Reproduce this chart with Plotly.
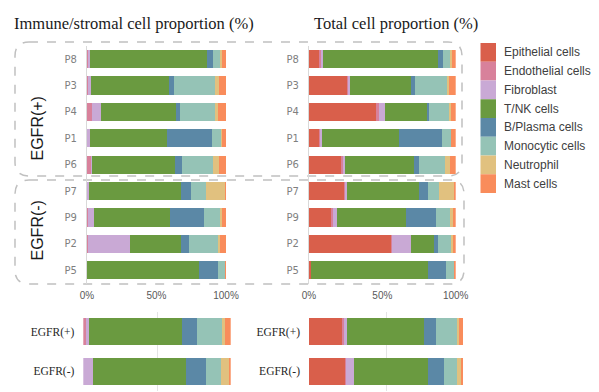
import plotly.graph_objects as go

W, H = 599, 392

cell_types = ["Epithelial cells", "Endothelial cells", "Fibroblast", "T/NK cells",
              "B/Plasma cells", "Monocytic cells", "Neutrophil", "Mast cells"]
colors = ["#D95F4B", "#D8819B", "#C9A9D5", "#6A9A40", "#5B88A6", "#95C3B6", "#E1C17F", "#F98C5B"]

patients = ["P8", "P3", "P4", "P1", "P6", "P7", "P9", "P2", "P5"]
groups = ["EGFR(+)", "EGFR(-)"]
x_ticks = [0, 50, 100]
x_tick_labels = ["0%", "50%", "100%"]

# Immune/stromal cell proportion (%) per patient (no epithelial cells)
immune_endothelial = [1.0, 1.4, 3.6, 0.0, 3.1, 0.0, 1.0, 0.5, 0.0]
immune_fibroblast = [1.5, 1.2, 6.5, 1.9, 0.3, 1.4, 4.3, 30.5, 0.0]
immune_tnk = [84.0, 56.5, 53.8, 56.0, 60.0, 65.9, 54.1, 36.3, 80.8]
immune_bplasma = [4.0, 3.4, 2.9, 32.2, 4.6, 7.2, 24.5, 6.0, 13.2]
immune_monocytic = [5.3, 29.6, 26.0, 6.7, 22.4, 10.8, 11.5, 20.7, 5.3]
immune_neutrophil = [1.2, 2.6, 1.2, 0.1, 4.8, 14.4, 1.7, 1.7, 0.0]
immune_mast = [3.0, 5.3, 6.0, 3.1, 4.8, 0.3, 2.9, 4.3, 0.7]

# Total cell proportion (%) per patient
total_epithelial = [6.8, 26.1, 45.7, 7.0, 21.8, 23.9, 14.8, 56.1, 1.4]
total_endothelial = [1.4, 0.9, 1.8, 0.3, 1.6, 0.9, 1.4, 0.2, 0.0]
total_fibroblast = [1.4, 0.9, 4.5, 1.6, 1.4, 0.9, 3.0, 13.4, 0.0]
total_tnk = [78.0, 41.8, 28.6, 52.7, 46.8, 49.5, 46.8, 15.7, 79.5]
total_bplasma = [3.6, 2.5, 0.9, 28.9, 3.2, 5.9, 20.7, 2.7, 12.7]
total_monocytic = [5.0, 21.8, 14.5, 6.6, 18.2, 7.5, 9.5, 9.1, 5.5]
total_neutrophil = [1.1, 1.6, 0.7, 0.0, 3.0, 10.7, 1.8, 1.1, 0.0]
total_mast = [2.7, 4.3, 3.2, 3.0, 4.1, 0.7, 2.0, 1.8, 0.9]

# Group-level immune/stromal proportion (%)
group_immune_endothelial = [1.8, 0.0]
group_immune_fibroblast = [2.3, 6.6]
group_immune_tnk = [63.1, 62.9]
group_immune_bplasma = [10.2, 14.0]
group_immune_monocytic = [17.0, 10.2]
group_immune_neutrophil = [1.4, 5.0]
group_immune_mast = [4.3, 1.4]

# Group-level total proportion (%)
group_total_epithelial = [21.2, 23.8]
group_total_endothelial = [1.7, 0.4]
group_total_fibroblast = [1.5, 4.8]
group_total_tnk = [49.9, 48.4]
group_total_bplasma = [8.0, 10.4]
group_total_monocytic = [13.4, 8.2]
group_total_neutrophil = [1.3, 2.8]
group_total_mast = [3.0, 1.3]

panels = [
    ("x", "y", patients, 0.69, [None, immune_endothelial, immune_fibroblast, immune_tnk,
                                immune_bplasma, immune_monocytic, immune_neutrophil, immune_mast]),
    ("x2", "y2", patients, 0.69, [total_epithelial, total_endothelial, total_fibroblast, total_tnk,
                                  total_bplasma, total_monocytic, total_neutrophil, total_mast]),
    ("x3", "y3", groups, 0.67, [None, group_immune_endothelial, group_immune_fibroblast, group_immune_tnk,
                                group_immune_bplasma, group_immune_monocytic, group_immune_neutrophil,
                                group_immune_mast]),
    ("x4", "y4", groups, 0.67, [group_total_epithelial, group_total_endothelial, group_total_fibroblast,
                                group_total_tnk, group_total_bplasma, group_total_monocytic,
                                group_total_neutrophil, group_total_mast]),
]


def fx(px):
    return px / W


def fy(py):
    return 1 - py / H


fig = go.Figure()
for xa, ya, cats, bw, series in panels:
    for name, col, vals in zip(cell_types, colors, series):
        if vals is None:
            continue
        fig.add_trace(go.Bar(x=vals, y=cats, orientation="h", name=name, marker_color=col,
                             marker_line_width=0, width=bw, xaxis=xa, yaxis=ya,
                             showlegend=False, hovertemplate="%{y} " + name + ": %{x}%<extra></extra>"))

tick_font = dict(family="Liberation Sans", size=10, color="#595959")
ylab_font = dict(family="DejaVu Sans", size=10, color="#7F7F7F")
grp_font = dict(family="Liberation Serif", size=11.5, color="#262626")


def top_x(x0, x1):
    return dict(domain=[fx(x0), fx(x1)], range=[0, 100], tickvals=x_ticks, ticktext=x_tick_labels,
                showgrid=False, zeroline=False, showline=False, ticks="", tickfont=tick_font,
                ticklabelstandoff=4, fixedrange=True, automargin=False)


def bot_x(x0, x1):
    return dict(domain=[fx(x0), fx(x1)], range=[0, 100], tickvals=x_ticks, showticklabels=False,
                showgrid=True, gridcolor="#E4E4E4", gridwidth=1, zeroline=False, showline=False,
                ticks="", fixedrange=True, automargin=False)


def top_y(anchor):
    return dict(domain=[fy(283.5), fy(46.0)], categoryorder="array", categoryarray=patients,
                autorange="reversed", showline=True, linecolor="#D9D9D9", linewidth=1,
                showgrid=False, zeroline=False, ticks="", tickfont=ylab_font, ticklabelstandoff=7,
                anchor=anchor, fixedrange=True, automargin=False)


def bot_y(anchor):
    return dict(domain=[fy(391.1), fy(311.9)], categoryorder="array", categoryarray=groups,
                autorange="reversed", showline=False, showgrid=False, zeroline=False, ticks="",
                tickfont=grp_font, ticklabelstandoff=8, anchor=anchor, fixedrange=True,
                automargin=False)


shapes = []


def rbox(x0, y0, x1, y1, r):
    pts = [
        ("M", [(x0 + r, y0)]), ("L", [(x1 - r, y0)]), ("Q", [(x1, y0), (x1, y0 + r)]),
        ("L", [(x1, y1 - r)]), ("Q", [(x1, y1), (x1 - r, y1)]), ("L", [(x0 + r, y1)]),
        ("Q", [(x0, y1), (x0, y1 - r)]), ("L", [(x0, y0 + r)]), ("Q", [(x0, y0), (x0 + r, y0)]),
    ]
    path = ""
    for cmd, ps in pts:
        path += cmd + " " + " ".join(f"{fx(a):.5f},{fy(b):.5f}" for a, b in ps) + " "
    return dict(type="path", path=path + "Z", xref="paper", yref="paper",
                line=dict(color="#C0C0C0", width=1.5, dash="dash"), layer="below")


shapes.append(rbox(15, 42, 462, 176, 14))
shapes.append(rbox(15, 180, 464, 284, 14))

annotations = [
    dict(text="Immune/stromal cell proportion (%)", x=fx(12), y=fy(24), xref="paper", yref="paper",
         xanchor="left", yanchor="middle", showarrow=False,
         font=dict(family="Liberation Serif", size=16.5, color="#1A1A1A")),
    dict(text="Total cell proportion (%)", x=fx(312), y=fy(24), xref="paper", yref="paper",
         xanchor="left", yanchor="middle", showarrow=False,
         font=dict(family="Liberation Serif", size=16.5, color="#1A1A1A")),
    dict(text="EGFR(+)", x=fx(37), y=fy(128.5), xref="paper", yref="paper", textangle=-90,
         xanchor="center", yanchor="middle", showarrow=False,
         font=dict(family="Liberation Sans", size=16, color="#1A1A1A")),
    dict(text="EGFR(-)", x=fx(37), y=fy(230.5), xref="paper", yref="paper", textangle=-90,
         xanchor="center", yanchor="middle", showarrow=False,
         font=dict(family="Liberation Sans", size=16, color="#1A1A1A")),
]

# Legend: contiguous colour block with labels
leg_top, leg_h = 43.0, 18.75
for i, (name, col) in enumerate(zip(cell_types, colors)):
    y0 = leg_top + i * leg_h
    shapes.append(dict(type="rect", xref="paper", yref="paper", x0=fx(480.5), x1=fx(496),
                       y0=fy(y0 + leg_h), y1=fy(y0), fillcolor=col, line=dict(width=0)))
    annotations.append(dict(text=name, x=fx(502), y=fy(y0 + leg_h / 2), xref="paper", yref="paper",
                            xanchor="left", yanchor="middle", showarrow=False,
                            font=dict(family="Liberation Sans", size=12, color="#404040")))

fig.update_layout(
    width=W, height=H, margin=dict(l=0, r=0, t=0, b=0, autoexpand=False),
    barmode="stack", bargap=0.3,
    paper_bgcolor="white", plot_bgcolor="white", showlegend=False,
    xaxis=top_x(87, 226), yaxis=top_y("x"),
    xaxis2=top_x(309, 455.7), yaxis2=top_y("x2"),
    xaxis3=bot_x(83.3, 230.7), yaxis3=bot_y("x3"),
    xaxis4=bot_x(309, 463.3), yaxis4=bot_y("x4"),
    shapes=shapes, annotations=annotations,
)
fig.update_layout(xaxis=dict(anchor="y"), xaxis2=dict(anchor="y2"),
                  xaxis3=dict(anchor="y3"), xaxis4=dict(anchor="y4"))

fig.write_html("out.html", config={"displayModeBar": False},
               post_script="document.body.style.margin='0';document.body.style.overflow='hidden';")
